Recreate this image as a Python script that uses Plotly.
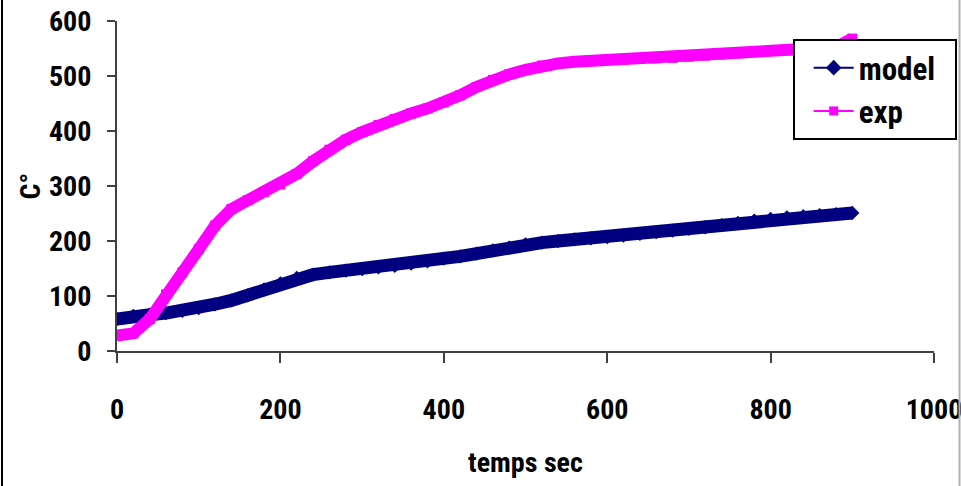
import plotly.graph_objects as go

time_s = [0, 20, 40, 60, 80, 100, 120, 140, 160, 180, 200, 220, 240, 260, 280, 300,
          320, 340, 360, 380, 400, 420, 440, 460, 480, 500, 520, 540, 560, 580, 600,
          620, 640, 660, 680, 700, 720, 740, 760, 780, 800, 820, 840, 860, 880, 900]

model = [58, 64, 66, 69, 73, 78, 85, 92, 101, 112, 123, 133, 139, 143, 146, 149,
         152, 155, 159, 163, 168, 172, 177, 183, 188, 194, 197, 200, 203, 205, 207,
         210, 213, 216, 219, 222, 225, 229, 233, 237, 240, 243, 245, 247, 249, 251]

exp = [28, 32, 58, 103, 143, 185, 228, 258, 274, 289, 303, 322, 345, 366, 384, 398,
       411, 422, 432, 441, 452, 465, 480, 493, 503, 511, 519, 523, 526, 528, 529,
       530, 531, 532, 533, 535, 537, 539, 541, 544, 546, 548, 549, 550, 552, 568]

x_ticks = [0, 200, 400, 600, 800, 1000]
y_ticks = [0, 100, 200, 300, 400, 500, 600]

NAVY = "#000080"
MAGENTA = "#FF00FF"
FONT = "Roboto Condensed, Open Sans Condensed, Liberation Sans, sans-serif"
W, H = 961, 486
PX0, PX1, PY0, PY1 = 117, 934, 21, 351  # plot area in pixels
NB = "\u00a0"

fig = go.Figure()
fig.add_trace(go.Scatter(x=time_s, y=model, mode="lines+markers", showlegend=False,
                         line=dict(color=NAVY, width=13),
                         marker=dict(symbol="diamond", size=11, color=NAVY)))
fig.add_trace(go.Scatter(x=time_s, y=exp, mode="lines+markers", showlegend=False,
                         line=dict(color=MAGENTA, width=12),
                         marker=dict(symbol="square", size=10, color=MAGENTA)))
fig.add_trace(go.Scatter(x=[None], y=[None], mode="lines+markers", name="model" + NB + NB,
                         line=dict(color=NAVY, width=2),
                         marker=dict(symbol="diamond", size=12, color=NAVY)))
fig.add_trace(go.Scatter(x=[None], y=[None], mode="lines+markers", name="exp",
                         line=dict(color=MAGENTA, width=2),
                         marker=dict(symbol="square", size=9, color=MAGENTA)))

fig.update_layout(
    width=W, height=H,
    margin=dict(l=0, r=0, t=0, b=0, autoexpand=False),
    paper_bgcolor="white", plot_bgcolor="white",
    font=dict(family=FONT, color="black"),
    showlegend=True,
    legend=dict(x=793 / W, y=1 - 39 / H, xanchor="left", yanchor="top",
                bgcolor="white", bordercolor="black", borderwidth=2,
                title=dict(text=NB, side="left", font=dict(size=16, family=FONT)),
                font=dict(size=31, family=FONT, weight="bold"),
                itemwidth=40, tracegroupgap=0),
    xaxis=dict(domain=[PX0 / W, PX1 / W], range=[0, 1000], tickvals=x_ticks,
               showgrid=False, zeroline=False,
               showline=True, linecolor="#404040", linewidth=2,
               ticks="outside", ticklen=10, tickwidth=2, tickcolor="#404040",
               ticklabelstandoff=22, ticklabeloverflow="allow",
               tickfont=dict(size=28, family=FONT, weight="bold"),
               title=dict(text="temps sec", standoff=28,
                          font=dict(size=28, family=FONT, weight="bold"))),
    yaxis=dict(domain=[1 - PY1 / H, 1 - PY0 / H], range=[0, 600], tickvals=y_ticks,
               showgrid=False, zeroline=False,
               showline=True, linecolor="#404040", linewidth=2,
               ticks="outside", ticklen=8, tickwidth=2, tickcolor="#404040",
               ticklabelstandoff=10, ticklabeloverflow="allow",
               tickfont=dict(size=28, family=FONT, weight="bold"),
               title=dict(text="C°", standoff=0,
                          font=dict(size=28, family=FONT, weight="bold"))),
    shapes=[
        dict(type="line", xref="paper", yref="paper", x0=2 / W, x1=2 / W, y0=0, y1=1,
             line=dict(color="black", width=2)),
        dict(type="line", xref="paper", yref="paper", x0=959.5 / W, x1=959.5 / W, y0=0, y1=1,
             line=dict(color="#b0b0b0", width=2)),
    ],
)

fig.write_html("out.html")
